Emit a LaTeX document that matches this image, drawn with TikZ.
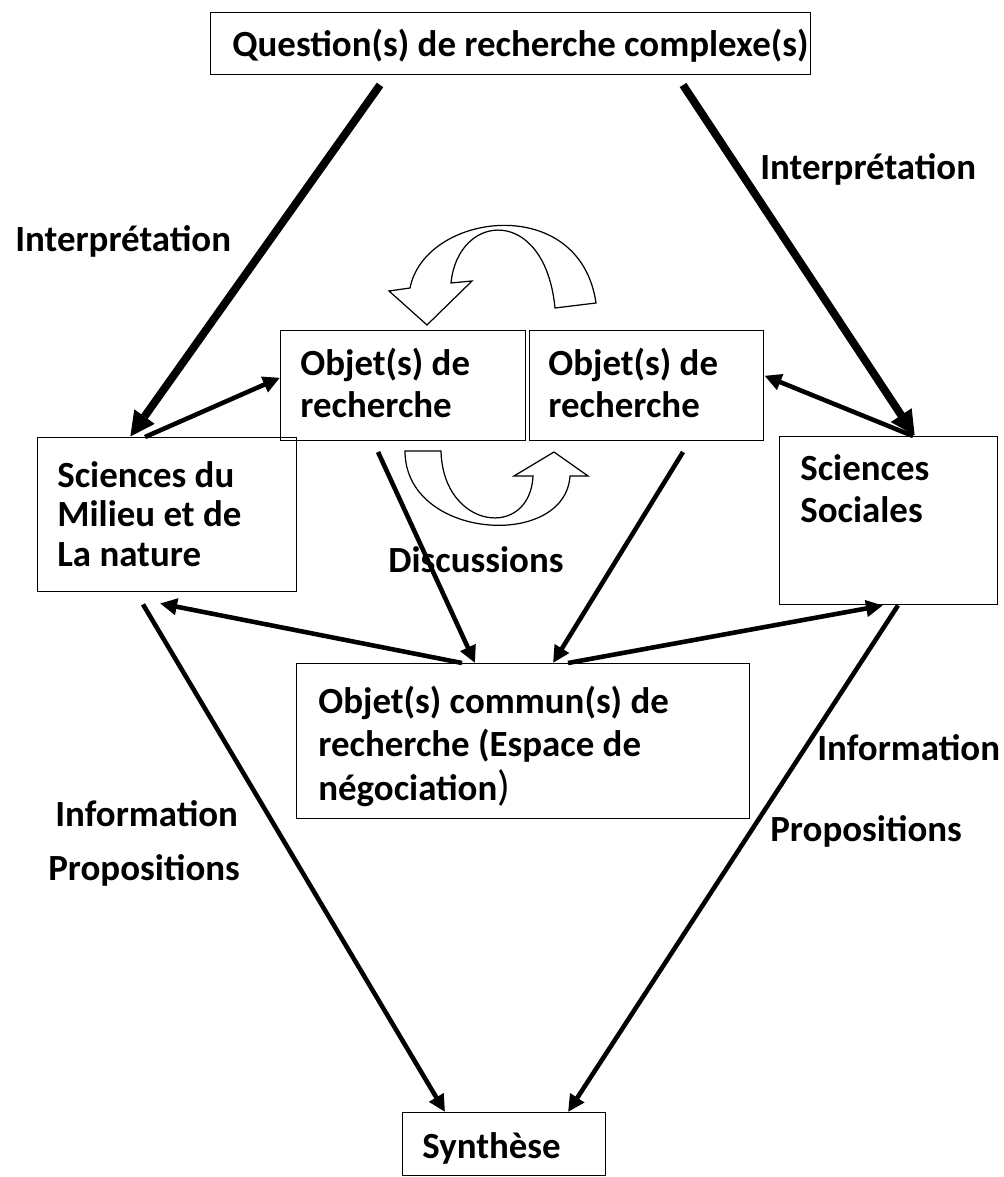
\documentclass[tikz,border=0pt]{standalone}
\usepackage{fontspec}
\setmainfont{Carlito}
\usetikzlibrary{arrows.meta}
\newcommand{\panellines}[1]{\begin{tabular}[t]{@{}l@{}}#1\end{tabular}}
\tikzset{
  panel/.style={draw=black, line width=0.8pt, inner sep=0pt, anchor=north west},
  paneltext/.style={font=\fontsize{21}{#1}\selectfont\bfseries, anchor=base west, inner sep=0pt},
  paneltext/.default=23.5,
  tag/.style={font=\fontsize{21}{24}\selectfont\bfseries, anchor=base west, inner sep=0pt},
  bigflow/.style={line width=4.5pt, -{Triangle[length=5mm,width=4.6mm]}},
  flow/.style={line width=2.6pt, -{Triangle[length=3.4mm,width=3.2mm]}},
  turn/.style={fill=white, draw=black, line width=0.7pt, line join=miter},
}
\begin{document}
\begin{tikzpicture}[x=0.2mm, y=-0.2mm]
\useasboundingbox (0,0) rectangle (1003,1177);
% boxes
\node[panel, minimum width=120mm, minimum height=12.4mm] (question) at (210,12) {};
\node[panel, minimum width=49mm, minimum height=22mm] (objA) at (280,330) {};
\node[panel, minimum width=46.8mm, minimum height=22mm] (objB) at (529,330) {};
\node[panel, minimum width=51.8mm, minimum height=30.8mm] (milieu) at (37,437) {};
\node[panel, minimum width=43.6mm, minimum height=33.6mm] (sociales) at (779,436) {};
\node[panel, minimum width=90.6mm, minimum height=31mm] (commun) at (296,663) {};
\node[panel, minimum width=40.6mm, minimum height=12.6mm] (synth) at (402,1112) {};
% box texts
\node[paneltext] (question-t) at (232,57) {Question(s) de recherche complexe(s)};
\node[paneltext=23.8] (objA-t) at (300,376) {\panellines{Objet(s) de\\recherche}};
\node[paneltext=23.8] (objB-t) at (548,376) {\panellines{Objet(s) de\\recherche}};
\node[paneltext=22.7] (milieu-t) at (57,487) {\panellines{Sciences du\\Milieu et de\\La nature}};
\node[paneltext=24] (sociales-t) at (800,480) {\panellines{Sciences\\Sociales}};
\node[paneltext=25] (commun-t) at (318,713) {\panellines{Objet(s) commun(s) de\\recherche (Espace de\\négociation{\mdseries\fontsize{24}{25}\selectfont)}}};
\node[paneltext] (synth-t) at (422,1158) {Synthèse};
% free ends
\coordinate (qL) at (380,85);
\coordinate (qR) at (683,85);
\coordinate (dL) at (378,452);
\coordinate (dR) at (683,452);
% connectors
\draw[bigflow] (qL) -- ([xshift=18.6mm]milieu.north west);
\draw[bigflow] (qR) -- ([xshift=27.2mm]sociales.north west);
\draw[flow] ([xshift=21.6mm]milieu.north west) -- ([yshift=1.6mm]objA.west);
\draw[flow] ([xshift=26.8mm]sociales.north west) -- ([yshift=2mm]objB.east);
\draw[flow] (dL) -- ([xshift=35.8mm]commun.north west);
\draw[flow] (dR) -- ([xshift=51.4mm]commun.north west);
\draw[flow] ([xshift=33.2mm]commun.north west) -- ([xshift=24.6mm,yshift=-2.2mm]milieu.south west);
\draw[flow] ([xshift=54.4mm]commun.north west) -- ([xshift=20.8mm]sociales.south west);
\draw[flow] ([xshift=21.2mm,yshift=-2.4mm]milieu.south west) -- ([xshift=8.6mm]synth.north west);
\draw[flow] ([xshift=23.8mm]sociales.south west) -- ([xshift=33.2mm]synth.north west);
% curved block arrows
\draw[turn] (427,325) -- (389,291) -- (410,288) .. controls (425,212) and (580,192) .. (596,303)
  -- (555,308) .. controls (545,205) and (458,212) .. (451,283) -- (472,281) -- cycle;
\draw[turn] (405,451) -- (441,451) .. controls (443,530) and (530,540) .. (533,476)
  -- (514,476) -- (554,452) -- (588,476) -- (570,476) .. controls (565,550) and (405,540) .. cycle;
% labels
\node[tag] (interp-l) at (15,252) {Interprétation};
\node[tag] (interp-r) at (760,180) {Interprétation};
\node[tag] (discuss) at (388,572) {Discussions};
\node[tag] (info-l) at (55,826) {Information};
\node[tag] (prop-l) at (48,880) {Propositions};
\node[tag] (info-r) at (817,760) {Information};
\node[tag] (prop-r) at (770,841) {Propositions};
\end{tikzpicture}
\end{document}
